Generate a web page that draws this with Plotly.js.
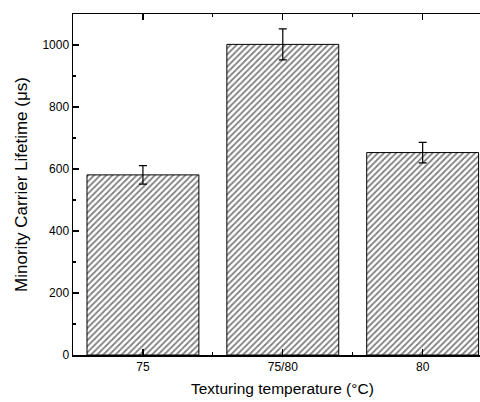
<!DOCTYPE html>
<html><head><meta charset="utf-8">
<script src="https://cdn.plot.ly/plotly-3.0.1.min.js"></script>
<style>html,body{margin:0;padding:0;background:#fff}</style>
</head><body><div id="chart" style="width:480px;height:402px"></div>
<script>
const categories = ["75", "75/80", "80"];
const lifetimes = [581, 1002, 653];
const errors = [30, 50, 33];
const positions = categories.map((c, i) => i);
const xTitle = 'Texturing temperature (°C)';
const yTitle = 'Minority Carrier Lifetime (μs)';

const trace = {
  type: 'bar',
  x: positions,
  y: lifetimes,
  width: 0.8,
  marker: {
    color: '#ffffff',
    line: {color: '#000000', width: 1},
    pattern: {shape: '/', size: 4.3, solidity: 0.4, fgcolor: '#000000', bgcolor: '#ffffff', fillmode: 'overlay'}
  },
  error_y: {type: 'data', array: errors, visible: true, color: '#000000', thickness: 1.2, width: 4}
};

const font = {family: 'Liberation Sans, Arial, sans-serif', color: '#000'};
const layout = {
  width: 480, height: 402,
  margin: {l: 73, r: 0, t: 14, b: 47},
  paper_bgcolor: '#fff', plot_bgcolor: '#fff',
  showlegend: false,
  font: Object.assign({size: 12}, font),
  xaxis: {
    range: [-0.5, 2.41],
    tickvals: positions, ticktext: categories,
    ticks: 'inside', ticklen: 6, tickwidth: 1.2, tickcolor: '#000',
    showline: true, linecolor: '#000', linewidth: 1.5, mirror: 'ticks',
    showgrid: false, zeroline: false,
    tickfont: {size: 12},
    minor: {tickvals: [-0.5, 0.5, 1.5], ticks: 'inside', ticklen: 3, tickwidth: 1.2, tickcolor: '#000'}
  },
  yaxis: {
    range: [0, 1100],
    tick0: 0, dtick: 200,
    ticks: 'inside', ticklen: 6, tickwidth: 1.2, tickcolor: '#000',
    showline: true, linecolor: '#000', linewidth: 1.5,
    showgrid: false, zeroline: false,
    tickfont: {size: 12},
    minor: {dtick: 100, ticks: 'inside', ticklen: 3, tickwidth: 1.2, tickcolor: '#000'},
    title: {text: yTitle, font: {size: 17}, standoff: 10}
  },
  annotations: [{
    text: xTitle, xref: 'x', yref: 'paper', x: 1, y: 0, yshift: -33,
    xanchor: 'center', yanchor: 'middle', showarrow: false, font: {size: 15.5}
  }]
};
Plotly.newPlot('chart', [trace], layout, {displayModeBar: false, staticPlot: true});
</script></body></html>
